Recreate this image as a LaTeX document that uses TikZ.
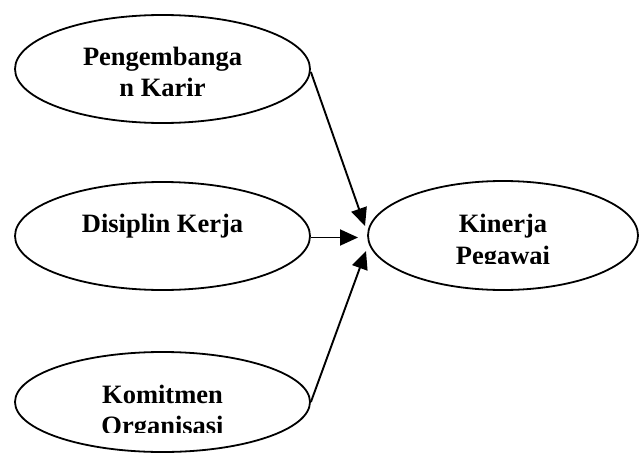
\documentclass[tikz,border=0pt]{standalone}
\usepackage{fontspec}
\setmainfont{Liberation Serif}
\usetikzlibrary{shapes.geometric,arrows.meta}
\begin{document}
\begin{tikzpicture}[x=1pt,y=-1pt,
  oval/.style={draw=black,line width=1.8pt,ellipse,inner sep=0pt},
  lbl/.style={anchor=base,inner sep=0pt,font=\fontsize{26.5}{31.5}\selectfont\bfseries},
  conn/.style={line width=1.9pt,-{Triangle[length=18pt,width=16pt]}}]
\useasboundingbox (0,0) rectangle (639,452);
% ellipses
\node[oval,minimum width=295pt,minimum height=108pt] (karir) at (162.5,69) {};
\node[oval,minimum width=295pt,minimum height=108pt] (disiplin) at (162.5,236) {};
\node[oval,minimum width=295pt,minimum height=100pt] (komit) at (162.5,402) {};
\node[oval,minimum width=270pt,minimum height=109pt] (kinerja) at (503,235.5) {};
% labels
\node[lbl] (t1) at (162.5,65) {Pengembanga};
\node[lbl] (t2) at (162.5,96.5) {n Karir};
\node[lbl] (t3) at (162.5,232) {Disiplin Kerja};
\node[lbl] (t4) at (162.5,403) {Komitmen};
\begin{scope}
\clip (15,405) rectangle (310,432);
\node[lbl] (t5) at (162.5,434.5) {Organisasi};
\end{scope}
\node[lbl] (t6) at (503,232.5) {Kinerja};
\begin{scope}
\clip (368,236) rectangle (638,263.5);
\node[lbl] (t7) at (503,264) {Pegawai};
\end{scope}
% arrow tips
\coordinate (tipA) at (365,226);
\coordinate (tipB) at (358,237.5);
\coordinate (tipC) at (366,251);
\draw[conn] ([yshift=-3pt]karir.east) -- (tipA);
\draw[conn] ([yshift=-1.5pt]disiplin.east) -- (tipB);
\draw[conn] (komit.east) -- (tipC);
\end{tikzpicture}
\end{document}
